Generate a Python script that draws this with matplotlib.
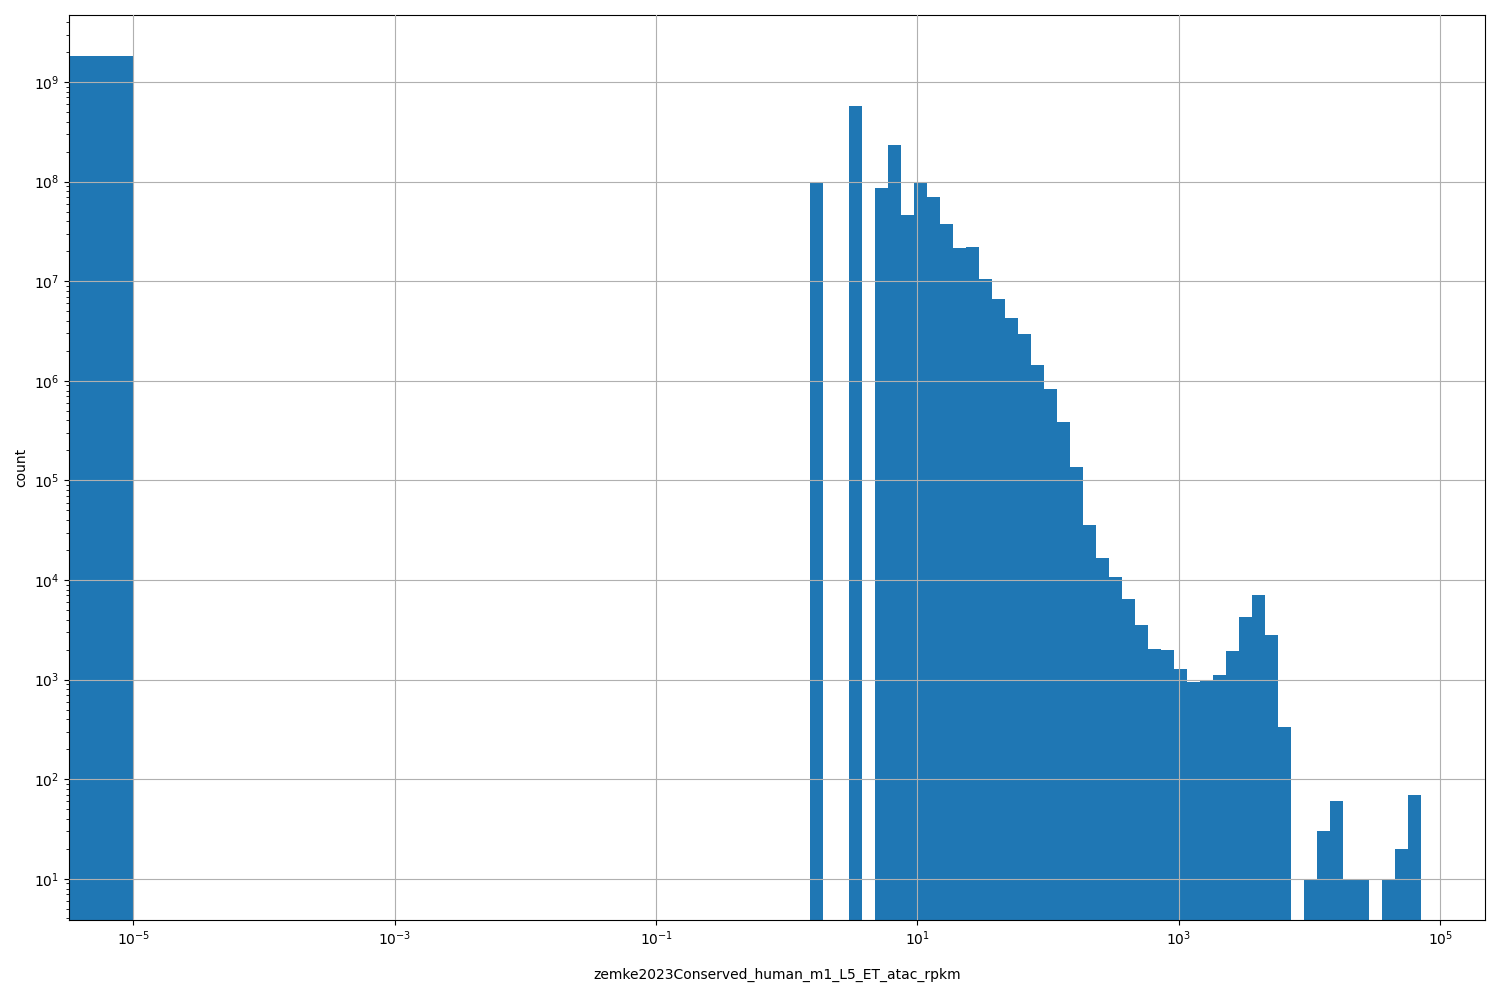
import numpy as np
import matplotlib
matplotlib.use("Agg")
import matplotlib.pyplot as plt

# histogram bins: one bin for the zeros [0, 1e-5], then 99 log bins up to the max
n_log_edges = 100
log_lo = -5
log_hi = 4.85

# count in the zero bin
zero_count = 1.82e9

# counts for log bins 52..98 (earlier log bins are empty)
first_bin = 52
counts = [
    9.9e7, 0, 0, 5.7e8, 0, 8.6e7, 2.33e8, 4.6e7, 9.7e7, 7.0e7,
    3.74e7, 2.15e7, 2.2e7, 1.05e7, 6.7e6, 4.25e6, 2.93e6, 1.43e6, 8.2e5, 3.83e5,
    1.35e5, 3.53e4, 1.68e4, 1.08e4, 6.5e3, 3.5e3, 2.05e3, 2.0e3, 1.29e3, 955,
    1.0e3, 1.12e3, 1.95e3, 4.3e3, 7.1e3, 2.83e3, 337, 0, 10, 30,
    60, 10, 10, 0, 10, 20, 70,
]

x_ticks = [1e-5, 1e-3, 1e-1, 1e1, 1e3, 1e5]

edges = np.concatenate([[0.0], np.logspace(log_lo, log_hi, n_log_edges)])
weights = np.zeros(len(edges) - 1)
weights[0] = zero_count
weights[1 + first_bin:1 + first_bin + len(counts)] = counts

# one sample per bin, weighted by its count
centers = np.concatenate([[edges[1] / 2], np.sqrt(edges[1:-1] * edges[2:])])

fig, ax = plt.subplots(figsize=(15, 10), dpi=100)
ax.hist(centers, bins=edges, weights=weights, color="#1f77b4")
ax.set_xscale("log")
ax.set_yscale("log")
ax.set_xticks(x_ticks)
ax.grid(True)
ax.set_axisbelow(False)
ax.set_xlabel("zemke2023Conserved_human_m1_L5_ET_atac_rpkm", labelpad=14)
ax.set_ylabel("count")
fig.subplots_adjust(left=0.046, right=0.99, top=0.985, bottom=0.08)
plt.savefig("out.png")
